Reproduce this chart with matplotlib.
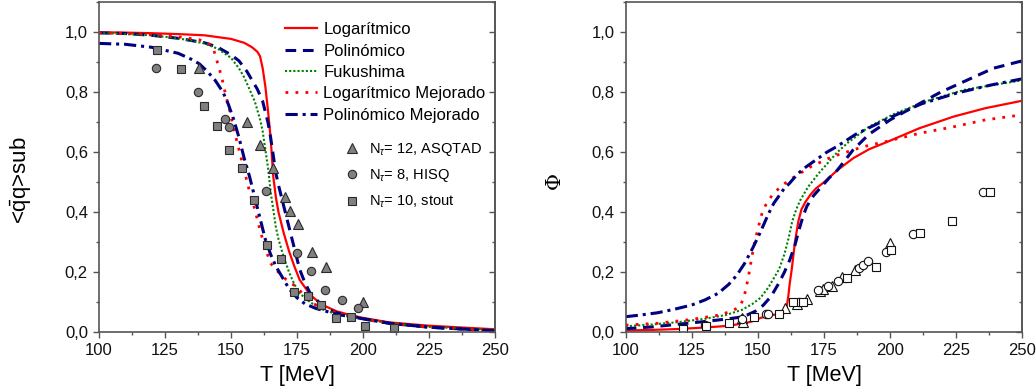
import matplotlib
matplotlib.use("Agg")
import matplotlib.pyplot as plt
from matplotlib.ticker import MultipleLocator, FuncFormatter

plt.rcParams['font.family'] = ['Liberation Sans', 'DejaVu Sans']
plt.rcParams['mathtext.fontset'] = 'custom'
plt.rcParams['mathtext.rm'] = 'Liberation Sans'
plt.rcParams['mathtext.it'] = 'Liberation Sans:italic'

# ---------------- Left panel: condensate ----------------
log_T = [100, 110, 120, 130, 140, 150, 155, 158, 160, 161, 162, 163, 164, 165, 166, 167, 168, 170, 172, 174, 176, 178, 180, 182, 185, 190, 195, 200, 210, 225, 250]
log_C = [1.0, 0.999, 0.997, 0.994, 0.99, 0.978, 0.965, 0.95, 0.935, 0.92, 0.88, 0.82, 0.74, 0.65, 0.52, 0.45, 0.40, 0.33, 0.27, 0.22, 0.175, 0.15, 0.125, 0.11, 0.09, 0.07, 0.058, 0.048, 0.033, 0.022, 0.01]

pol_T = [100, 110, 120, 130, 140, 145, 150, 153, 156, 158, 160, 162, 164, 165, 166, 167, 168, 170, 172, 174, 176, 178, 180, 185, 190, 200, 210, 225, 250]
pol_C = [0.998, 0.996, 0.99, 0.98, 0.965, 0.95, 0.925, 0.905, 0.87, 0.84, 0.81, 0.77, 0.70, 0.65, 0.59, 0.53, 0.49, 0.42, 0.35, 0.28, 0.21, 0.165, 0.13, 0.085, 0.065, 0.045, 0.03, 0.017, 0.005]

fuk_T = [100, 120, 130, 140, 145, 150, 153, 155, 157, 159, 161, 162, 163, 164, 165, 166, 167, 168, 170, 172, 174, 176, 180, 185, 190, 200, 210, 225, 250]
fuk_C = [0.998, 0.99, 0.98, 0.963, 0.945, 0.915, 0.88, 0.85, 0.81, 0.77, 0.71, 0.67, 0.61, 0.55, 0.47, 0.41, 0.35, 0.31, 0.25, 0.20, 0.16, 0.13, 0.10, 0.075, 0.06, 0.045, 0.03, 0.018, 0.008]

logm_T = [100, 110, 120, 130, 138, 142, 143.5, 144.5, 145.5, 146.5, 148, 149.5, 151, 153, 155, 157, 159, 161, 163, 165, 168, 171, 175, 180, 185, 190, 200, 210, 225, 250]
logm_C = [0.998, 0.996, 0.993, 0.985, 0.975, 0.96, 0.94, 0.91, 0.88, 0.85, 0.79, 0.74, 0.68, 0.61, 0.54, 0.47, 0.41, 0.34, 0.28, 0.23, 0.20, 0.175, 0.15, 0.10, 0.08, 0.065, 0.045, 0.03, 0.017, 0.005]

polm_T = [100, 110, 120, 125, 130, 135, 138, 141, 144, 147, 149, 151, 153, 155, 157, 159, 161, 163, 165, 167, 169, 172, 175, 178, 182, 186, 190, 200, 210, 225, 250]
polm_C = [0.963, 0.96, 0.95, 0.94, 0.93, 0.91, 0.895, 0.87, 0.84, 0.80, 0.76, 0.71, 0.65, 0.58, 0.52, 0.45, 0.38, 0.31, 0.26, 0.22, 0.19, 0.145, 0.115, 0.095, 0.08, 0.07, 0.06, 0.045, 0.03, 0.017, 0.005]

asq_T = [137.8, 156.2, 161.0, 165.8, 170.5, 172.3, 175.5, 180.5, 185.8, 200.1]
asq_C = [0.88, 0.70, 0.624, 0.547, 0.452, 0.404, 0.36, 0.269, 0.219, 0.102]
hisq_T = [121.6, 137.6, 147.7, 149.4, 163.1, 174.9, 180.3, 185.6, 191.9, 198.2]
hisq_C = [0.882, 0.80, 0.711, 0.683, 0.471, 0.263, 0.205, 0.141, 0.108, 0.080]
stout_T = [122.1, 130.9, 139.8, 144.6, 149.2, 154.0, 158.8, 163.8, 168.8, 174.0, 179.1, 184.2, 189.8, 195.3, 200.8, 211.9]
stout_C = [0.941, 0.878, 0.755, 0.689, 0.608, 0.549, 0.441, 0.291, 0.243, 0.135, 0.122, 0.091, 0.047, 0.052, 0.022, 0.013]

# ---------------- Right panel: Polyakov loop ----------------
logR_T = [100, 110, 120, 130, 138, 145, 148, 151, 154, 157, 160.5, 161, 161.5, 162, 162.8, 164, 165.3, 166.5, 168, 170, 172, 175, 180, 186, 192, 199, 211, 224, 236, 250]
logR_P = [0.006, 0.008, 0.011, 0.016, 0.021, 0.03, 0.037, 0.048, 0.055, 0.06, 0.065, 0.09, 0.12, 0.16, 0.21, 0.30, 0.37, 0.41, 0.435, 0.46, 0.48, 0.50, 0.54, 0.58, 0.61, 0.635, 0.68, 0.719, 0.747, 0.772]

polR_T = [100, 110, 120, 130, 138, 143, 146, 149, 152, 155, 158, 160, 162, 164, 165.5, 167, 168.5, 171, 173, 175, 177, 180, 186, 192, 200, 209, 219, 229, 239, 250]
polR_P = [0.012, 0.018, 0.027, 0.036, 0.044, 0.05, 0.058, 0.07, 0.09, 0.12, 0.165, 0.20, 0.24, 0.29, 0.34, 0.385, 0.42, 0.455, 0.475, 0.495, 0.515, 0.54, 0.608, 0.66, 0.708, 0.752, 0.80, 0.84, 0.88, 0.905]

fukR_T = [100, 110, 120, 130, 138, 144, 148, 151, 154, 156, 158, 160, 161.5, 163, 164.5, 166, 169, 173, 176, 180, 184, 192, 202, 215, 228, 240, 250]
fukR_P = [0.02, 0.026, 0.034, 0.045, 0.058, 0.075, 0.095, 0.115, 0.15, 0.18, 0.21, 0.26, 0.31, 0.37, 0.41, 0.44, 0.485, 0.53, 0.56, 0.60, 0.632, 0.685, 0.73, 0.774, 0.808, 0.826, 0.84]

logmR_T = [100, 112, 125, 135, 140, 143, 144.5, 145.5, 146.5, 147.5, 148.5, 150, 151.5, 153, 155, 157.5, 160, 162, 166, 170, 178, 190, 199, 211, 224, 236, 250]
logmR_P = [0.024, 0.03, 0.043, 0.057, 0.07, 0.085, 0.11, 0.145, 0.19, 0.24, 0.29, 0.345, 0.395, 0.425, 0.452, 0.476, 0.495, 0.508, 0.53, 0.552, 0.585, 0.619, 0.637, 0.663, 0.685, 0.708, 0.725]

polmR_T = [100, 106, 112, 118, 125, 130, 135, 139, 142, 145, 148, 151, 154, 156, 158, 160, 162, 165, 168, 172, 176, 180, 187, 200, 212, 225, 238, 250]
polmR_P = [0.052, 0.058, 0.065, 0.076, 0.091, 0.108, 0.13, 0.16, 0.19, 0.23, 0.28, 0.335, 0.395, 0.43, 0.455, 0.48, 0.497, 0.528, 0.55, 0.575, 0.60, 0.62, 0.66, 0.716, 0.762, 0.797, 0.824, 0.845]

triR_T = [143.9, 144.5, 160.2, 164.7, 168.5, 173.5, 174.6, 178.0, 181.7, 186.7, 200.0]
triR_P = [0.047, 0.035, 0.08, 0.093, 0.112, 0.138, 0.145, 0.155, 0.185, 0.208, 0.297]
cirR_T = [130.0, 144.0, 153.1, 154.0, 165.7, 172.9, 176.6, 180.4, 188.4, 189.9, 191.8, 198.3, 208.5, 235.0]
cirR_P = [0.026, 0.045, 0.06, 0.062, 0.102, 0.14, 0.155, 0.172, 0.213, 0.224, 0.238, 0.269, 0.328, 0.469]
sqrR_T = [121.8, 130.2, 139.2, 148.5, 158.1, 163.4, 167.0, 183.8, 194.6, 200.3, 211.3, 223.5, 237.8]
sqrR_P = [0.01, 0.022, 0.03, 0.052, 0.062, 0.102, 0.10, 0.182, 0.217, 0.274, 0.33, 0.372, 0.469]

labels = ['Logarítmico', 'Polinómico', 'Fukushima', 'Logarítmico Mejorado', 'Polinómico Mejorado']
data_labels = ['N$_{\\tau}$= 12, ASQTAD', 'N$_{\\tau}$= 8, HISQ', 'N$_{\\tau}$= 10, stout']

RED = '#ff0000'
NAVY = '#000080'
GREEN = '#008000'
styles = [
    dict(color=RED, lw=1.6, ls='-'),
    dict(color=NAVY, lw=2.2, ls=(0, (3.5, 2.2))),
    dict(color=GREEN, lw=1.5, ls=(0, (1, 1))),
    dict(color=RED, lw=2.0, ls=(0, (1, 2.6))),
    dict(color=NAVY, lw=2.2, ls=(0, (4, 1.6, 1, 1.6))),
]

W, H = 1036, 392
fig = plt.figure(figsize=(W / 100, H / 100), dpi=100)
axL = fig.add_axes([99 / W, (392 - 332.3) / H, 396 / W, 330 / H])
axR = fig.add_axes([625.7 / W, (392 - 332.3) / H, 396.6 / W, 330 / H])

comma = FuncFormatter(lambda v, p: f"{v:.1f}".replace('.', ','))
SPINE = '#555555'

def style_axes(ax):
    ax.set_xlim(100, 250)
    ax.set_ylim(0, 1.1)
    ax.xaxis.set_major_locator(MultipleLocator(25))
    ax.xaxis.set_minor_locator(MultipleLocator(12.5))
    ax.yaxis.set_minor_locator(MultipleLocator(0.1))
    ax.set_yticks([0, 0.2, 0.4, 0.6, 0.8, 1.0])
    ax.yaxis.set_major_formatter(comma)
    for s in ax.spines.values():
        s.set_color(SPINE)
        s.set_linewidth(1.2)
    ax.tick_params(which='both', direction='out', colors=SPINE, labelcolor='#111111',
                   labelsize=12, width=1.0)
    ax.tick_params(which='major', length=4.5)
    ax.tick_params(which='minor', length=2.5)
    sec = ax.secondary_yaxis('right')
    sec.set_yticks([0, 0.2, 0.4, 0.6, 0.8, 1.0])
    sec.yaxis.set_minor_locator(MultipleLocator(0.1))
    sec.tick_params(which='both', direction='in', labelright=False, colors=SPINE, width=1.0)
    sec.tick_params(which='major', length=4.5)
    sec.tick_params(which='minor', length=2.5)
    sec.spines['right'].set_color(SPINE)
    sec.spines['right'].set_linewidth(1.2)
    ax.set_xlabel('T [MeV]', fontsize=15.5, labelpad=5)

style_axes(axL)
style_axes(axR)

# Left curves
curvesL = [(log_T, log_C), (pol_T, pol_C), (fuk_T, fuk_C), (logm_T, logm_C), (polm_T, polm_C)]
handles = []
for (t, v), st, lab in zip(curvesL, styles, labels):
    h, = axL.plot(t, v, label=lab, **st)
    handles.append(h)

mk = dict(ls='none', markerfacecolor='#808080', markeredgecolor='#2a2a2a', markeredgewidth=0.8)
h1, = axL.plot(asq_T, asq_C, marker='^', ms=6.5, **mk)
h2, = axL.plot(hisq_T, hisq_C, marker='o', ms=6, **mk)
h3, = axL.plot(stout_T, stout_C, marker='s', ms=5.5, **mk)

leg1 = axL.legend(handles, labels, loc='upper left', bbox_to_anchor=(0.44, 0.975),
                  frameon=False, fontsize=12.0, handlelength=1.95, handletextpad=0.35,
                  labelspacing=0.38, borderaxespad=0.3)
axL.add_artist(leg1)
axL.legend([h1, h2, h3], data_labels, loc='upper left', bbox_to_anchor=(0.607, 0.598),
           frameon=False, fontsize=10.5, handlelength=1.0, handletextpad=0.6,
           labelspacing=0.65, borderaxespad=0.0)

axL.set_ylabel('<$\\bar{\\mathrm{q}}$q>sub', fontsize=16)
axL.yaxis.set_label_coords(-0.165, 0.46)

# Right curves
curvesR = [(logR_T, logR_P), (polR_T, polR_P), (fukR_T, fukR_P), (logmR_T, logmR_P), (polmR_T, polmR_P)]
for (t, v), st in zip(curvesR, styles):
    axR.plot(t, v, **st)

omk = dict(ls='none', markerfacecolor='white', markeredgecolor='#111111', markeredgewidth=0.8)
axR.plot(triR_T, triR_P, marker='^', ms=6.5, **omk)
axR.plot(cirR_T, cirR_P, marker='o', ms=6, **omk)
axR.plot(sqrR_T, sqrR_P, marker='s', ms=5.5, **omk)

axR.set_ylabel('\u03a6', fontsize=15, family=['DejaVu Serif'])
axR.yaxis.set_label_coords(-0.155, 0.46)

fig.savefig('out.png', dpi=100)
